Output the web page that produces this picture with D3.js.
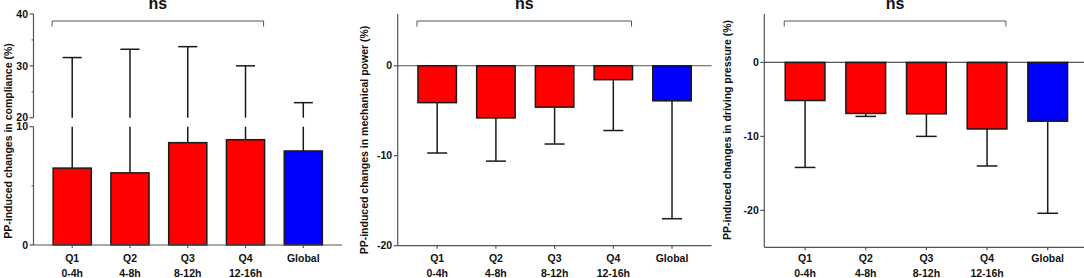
<!DOCTYPE html>
<html><head><meta charset="utf-8">
<script src="https://cdn.jsdelivr.net/npm/d3@7"></script>
<style>
html,body{margin:0;padding:0;background:#fff;}
svg{display:block;font-family:"Liberation Sans",Arial,sans-serif;font-weight:bold;}
</style></head>
<body><svg id="c" width="1084" height="278"></svg>
<script>
const categories = ["Q1","Q2","Q3","Q4","Global"];
const periods = ["0-4h","4-8h","8-12h","12-16h",""];
const barColors = ["#ff0000","#ff0000","#ff0000","#ff0000","#0000ff"];

// Panel A: compliance (%), mean and SD
const complianceMean = [6.5, 6.1, 8.65, 8.9, 7.95];
const complianceSD = [25.1, 27.1, 25.05, 21.1, 14.95];
const complianceTicksLower = [0, 10];
const complianceTicksUpper = [20, 30, 40];
const complianceMinorLower = [5];
const complianceMinorUpper = [25, 35];

// Panel B: mechanical power (%)
const mechanicalMean = [-4.1, -5.8, -4.6, -1.55, -3.9];
const mechanicalSD = [5.6, 4.8, 4.1, 5.65, 13.1];
const mechanicalTicks = [-20, -10, 0];

// Panel C: driving pressure (%)
const drivingMean = [-5.15, -6.9, -6.95, -9.0, -7.95];
const drivingSD = [9.05, 0.4, 3.05, 5.0, 12.45];
const drivingTicks = [-20, -10, 0];

const yTitles = ["PP-induced changes in compliance (%)",
                 "PP-induced changes in mechanical power (%)",
                 "PP-induced changes in driving pressure (%)"];
const sigLabel = "ns";

const svg = d3.select("#c");
const AX = "#555", ERR = "#1a1a1a", STROKE = "#1a1a1a";
const FS = "10.5px";

function xAxisAndLabels(g, x, yBase) {
  g.append("line").attr("x1", x.range()[0]).attr("x2", x.range()[1])
    .attr("y1", yBase).attr("y2", yBase).attr("stroke", AX).attr("stroke-width", 1.2);
  categories.forEach((c, i) => {
    const cx = x(c) + x.bandwidth() / 2;
    g.append("line").attr("x1", cx).attr("x2", cx).attr("y1", yBase).attr("y2", yBase + 3)
      .attr("stroke", AX).attr("stroke-width", 1.2);
    g.append("text").attr("x", cx).attr("y", 262).attr("text-anchor", "middle")
      .attr("font-size", FS).attr("fill", "#111").text(c);
    if (periods[i]) g.append("text").attr("x", cx).attr("y", 276.5).attr("text-anchor", "middle")
      .attr("font-size", FS).attr("fill", "#111").text(periods[i]);
  });
}

function bracket(g, x, centerX) {
  const x1 = x("Q1") - 1, x2 = x("Q4") + x.bandwidth() - 1;
  g.append("path").attr("d", `M${x1},26.5V21H${x2}V26.5`).attr("fill", "none")
    .attr("stroke", AX).attr("stroke-width", 1);
  g.append("text").attr("x", (x1 + x2) / 2).attr("y", 9).attr("text-anchor", "middle")
    .attr("font-size", "16px").attr("fill", "#111").text(sigLabel);
}

function yTitle(g, bx, cy, t) {
  g.append("text").attr("transform", `translate(${bx},${cy}) rotate(-90)`)
    .attr("text-anchor", "middle").attr("font-size", FS).attr("fill", "#111").text(t);
}

function yTickLabels(g, axX, scale, ticks, fmt) {
  ticks.forEach(t => {
    const y = scale(t);
    g.append("line").attr("x1", axX - 4).attr("x2", axX).attr("y1", y).attr("y2", y)
      .attr("stroke", AX).attr("stroke-width", 1.2);
    g.append("text").attr("x", axX - 5.5).attr("y", y).attr("dy", "0.35em")
      .attr("text-anchor", "end").attr("font-size", FS).attr("fill", "#111").text(fmt ? fmt(t) : t);
  });
}

// ---------- Panel A (broken axis) ----------
{
  const g = svg.append("g");
  const x = d3.scaleBand().domain(categories).range([33.5, 342]).padding(0.34);
  const yL = d3.scaleLinear().domain([0, 10]).range([245, 126.7]);
  const yU = d3.scaleLinear().domain([20, 40]).range([117.7, 14]);
  const axX = 33.5;
  // y axis segments
  g.append("line").attr("x1", axX).attr("x2", axX).attr("y1", yU(40)).attr("y2", yU(20))
    .attr("stroke", AX).attr("stroke-width", 1.2);
  g.append("line").attr("x1", axX).attr("x2", axX).attr("y1", yL(10)).attr("y2", yL(0))
    .attr("stroke", AX).attr("stroke-width", 1.2);
  yTickLabels(g, axX, yL, complianceTicksLower);
  yTickLabels(g, axX, yU, complianceTicksUpper);
  complianceMinorLower.forEach(t => g.append("line").attr("x1", axX - 2).attr("x2", axX)
    .attr("y1", yL(t)).attr("y2", yL(t)).attr("stroke", AX));
  complianceMinorUpper.forEach(t => g.append("line").attr("x1", axX - 2).attr("x2", axX)
    .attr("y1", yU(t)).attr("y2", yU(t)).attr("stroke", AX));
  // bars
  categories.forEach((c, i) => {
    const cx = x(c) + x.bandwidth() / 2;
    const top = complianceMean[i] + complianceSD[i];
    const capW = x.bandwidth() * 0.5;
    // error bar: lower segment then upper segment
    g.append("line").attr("x1", cx).attr("x2", cx).attr("y1", yL(complianceMean[i])).attr("y2", yL(10))
      .attr("stroke", ERR).attr("stroke-width", 1.5);
    g.append("line").attr("x1", cx).attr("x2", cx).attr("y1", yU(20)).attr("y2", yU(top))
      .attr("stroke", ERR).attr("stroke-width", 1.5);
    g.append("line").attr("x1", cx - capW / 2).attr("x2", cx + capW / 2).attr("y1", yU(top)).attr("y2", yU(top))
      .attr("stroke", ERR).attr("stroke-width", 1.5);
    g.append("rect").attr("x", x(c)).attr("width", x.bandwidth())
      .attr("y", yL(complianceMean[i])).attr("height", yL(0) - yL(complianceMean[i]))
      .attr("fill", barColors[i]).attr("stroke", STROKE).attr("stroke-width", 1.5);
  });
  xAxisAndLabels(g, x, 245);
  bracket(g, x);
  yTitle(g, 12, 141, yTitles[0]);
}

// ---------- Panels B and C ----------
function negPanel(opts) {
  const g = svg.append("g");
  const x = d3.scaleBand().domain(categories).range(opts.xr).padding(0.345);
  const y = d3.scaleLinear().domain(opts.yd).range(opts.yr);
  const axX = opts.xr[0];
  g.append("line").attr("x1", axX).attr("x2", axX).attr("y1", opts.yr[1]).attr("y2", opts.yr[0])
    .attr("stroke", AX).attr("stroke-width", 1.2);
  yTickLabels(g, axX, y, opts.ticks);
  // zero line
  g.append("line").attr("x1", axX).attr("x2", opts.xr[1]).attr("y1", y(0)).attr("y2", y(0))
    .attr("stroke", AX).attr("stroke-width", 1.2);
  categories.forEach((c, i) => {
    const cx = x(c) + x.bandwidth() / 2;
    const m = opts.mean[i], e = m - opts.sd[i];
    const capW = x.bandwidth() * 0.52;
    g.append("line").attr("x1", cx).attr("x2", cx).attr("y1", y(m)).attr("y2", y(e))
      .attr("stroke", ERR).attr("stroke-width", 1.5);
    g.append("line").attr("x1", cx - capW / 2).attr("x2", cx + capW / 2).attr("y1", y(e)).attr("y2", y(e))
      .attr("stroke", ERR).attr("stroke-width", 1.5);
    g.append("rect").attr("x", x(c)).attr("width", x.bandwidth())
      .attr("y", y(0)).attr("height", y(m) - y(0))
      .attr("fill", barColors[i]).attr("stroke", STROKE).attr("stroke-width", 1.5);
  });
  xAxisAndLabels(g, x, opts.yr[0]);
  bracket(g, x);
  yTitle(g, opts.titleX, opts.titleY, opts.title);
}

negPanel({xr: [397.7, 711.5], yd: [-20, 5.75], yr: [245.7, 14], ticks: mechanicalTicks,
  mean: mechanicalMean, sd: mechanicalSD, title: yTitles[1], titleX: 368, titleY: 140});
negPanel({xr: [764.3, 1088.5], yd: [-25, 6.55], yr: [247.3, 14], ticks: drivingTicks,
  mean: drivingMean, sd: drivingSD, title: yTitles[2], titleX: 731, titleY: 130});
</script></body></html>
